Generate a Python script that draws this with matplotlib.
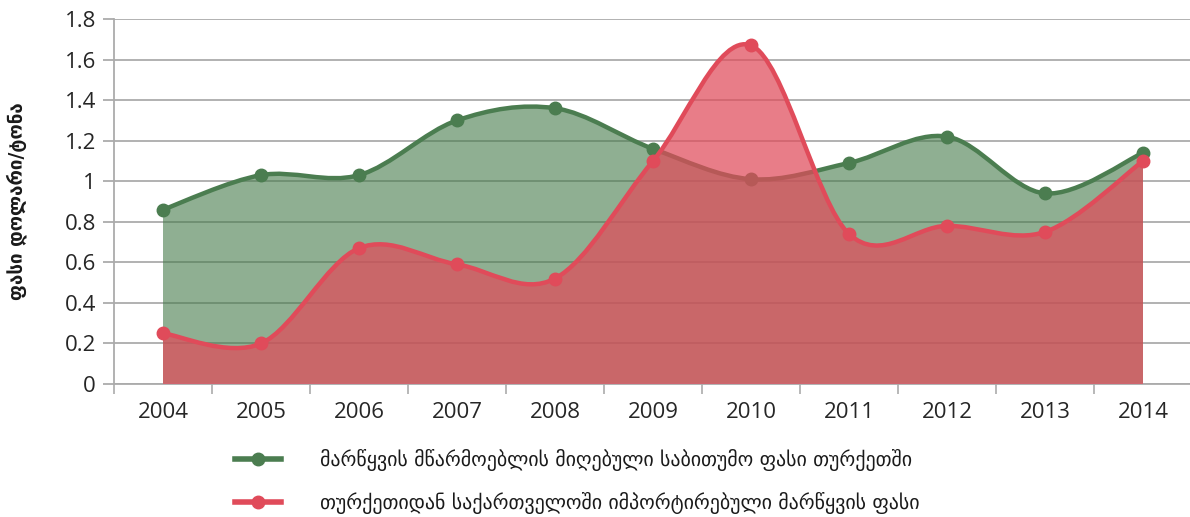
import matplotlib
matplotlib.use("Agg")
import matplotlib.pyplot as plt
from matplotlib.path import Path
from matplotlib.patches import PathPatch
from matplotlib.lines import Line2D
from matplotlib.ticker import FuncFormatter, MultipleLocator, FixedLocator

years = ["2004", "2005", "2006", "2007", "2008", "2009", "2010", "2011", "2012", "2013", "2014"]
producer_price = [0.86, 1.03, 1.03, 1.30, 1.36, 1.16, 1.01, 1.09, 1.22, 0.94, 1.14]
import_price = [0.25, 0.20, 0.67, 0.59, 0.52, 1.10, 1.67, 0.74, 0.78, 0.75, 1.10]
label_producer = "მარწყვის მწარმოებლის მიღებული საბითუმო ფასი თურქეთში"
label_import = "თურქეთიდან საქართველოში იმპორტირებული მარწყვის ფასი"
ylabel = "ფასი დოლარი/ტონა"

GREEN = "#4B7D50"
GREEN_FILL = "#447A49"
RED = "#E04B5A"
GRID = "#ABABAB"

def smooth_path(xs, ys, close_to_zero=False):
    pts = list(zip(xs, ys))
    n = len(pts)
    verts = [pts[0]]
    codes = [Path.MOVETO]
    for i in range(n - 1):
        p0 = pts[i - 1] if i > 0 else pts[i]
        p1 = pts[i]
        p2 = pts[i + 1]
        p3 = pts[i + 2] if i + 2 < n else pts[i + 1]
        c1 = (p1[0] + (p2[0] - p0[0]) / 6, p1[1] + (p2[1] - p0[1]) / 6)
        c2 = (p2[0] - (p3[0] - p1[0]) / 6, p2[1] - (p3[1] - p1[1]) / 6)
        verts += [c1, c2, p2]
        codes += [Path.CURVE4] * 3
    if close_to_zero:
        verts += [(xs[-1], 0), (xs[0], 0), pts[0]]
        codes += [Path.LINETO, Path.LINETO, Path.CLOSEPOLY]
    return Path(verts, codes)

fig = plt.figure(figsize=(11.9, 5.17), dpi=100)
ax = fig.add_axes([114 / 1190, 133 / 517, 1078 / 1190, 365 / 517])

x = list(range(len(years)))

# green series
ax.add_patch(PathPatch(smooth_path(x, producer_price, True), facecolor=GREEN_FILL,
                       edgecolor="none", alpha=0.6, zorder=2))
ax.add_patch(PathPatch(smooth_path(x, producer_price), facecolor="none",
                       edgecolor=GREEN, lw=3.2, zorder=3))
ax.plot(x, producer_price, "o", color=GREEN, ms=9, zorder=4)

# red series
ax.add_patch(PathPatch(smooth_path(x, import_price, True), facecolor=RED,
                       edgecolor="none", alpha=0.72, zorder=5))
ax.add_patch(PathPatch(smooth_path(x, import_price), facecolor="none",
                       edgecolor=RED, lw=3.2, zorder=6))
ax.plot(x, import_price, "o", color=RED, ms=9, zorder=7)

ax.set_xlim(-0.5, len(years) - 0.5)
ax.set_ylim(0, 1.8)
ax.yaxis.set_major_locator(MultipleLocator(0.2))
ax.yaxis.set_major_formatter(FuncFormatter(lambda v, p: f"{v:.1f}".rstrip("0").rstrip(".") if v else "0"))
ax.grid(axis="y", color=GRID, lw=1.3, zorder=1)
ax.set_axisbelow(True)

ax.set_xticks(x)
ax.set_xticklabels(years)
ax.xaxis.set_minor_locator(FixedLocator([i - 0.5 for i in range(len(years) + 1)]))
ax.tick_params(axis="x", which="major", length=0, pad=13, labelsize=16, labelcolor="#262626")
ax.tick_params(axis="x", which="minor", length=7, width=1.2, color=GRID, direction="out")
ax.tick_params(axis="y", length=8, width=1.3, color=GRID, pad=5, labelsize=16, labelcolor="#262626")
for lab in ax.get_xticklabels() + ax.get_yticklabels():
    lab.set_fontfamily("Open Sans")

for s in ["top", "right"]:
    ax.spines[s].set_visible(False)
for s in ["left", "bottom"]:
    ax.spines[s].set_color(GRID)
    ax.spines[s].set_linewidth(1.3)

ax.set_ylabel(ylabel, fontsize=13.5, fontweight="bold", family=["DejaVu Sans"], color="#1a1a1a")
ax.yaxis.set_label_coords(-0.081, 0.5)

handles = [
    Line2D([], [], color=GREEN, lw=4, marker="o", ms=9),
    Line2D([], [], color=RED, lw=4, marker="o", ms=9),
]
leg = fig.legend(handles, [label_producer, label_import], loc="upper left",
                 bbox_to_anchor=(225 / 1190, 1 - 439 / 517), frameon=False,
                 handlelength=2.3, handletextpad=2.0, labelspacing=1.05,
                 prop={"family": "DejaVu Sans", "size": 14.3}, borderpad=0)
for t in leg.get_texts():
    t.set_color("#1a1a1a")

fig.savefig("out.png", dpi=100)
